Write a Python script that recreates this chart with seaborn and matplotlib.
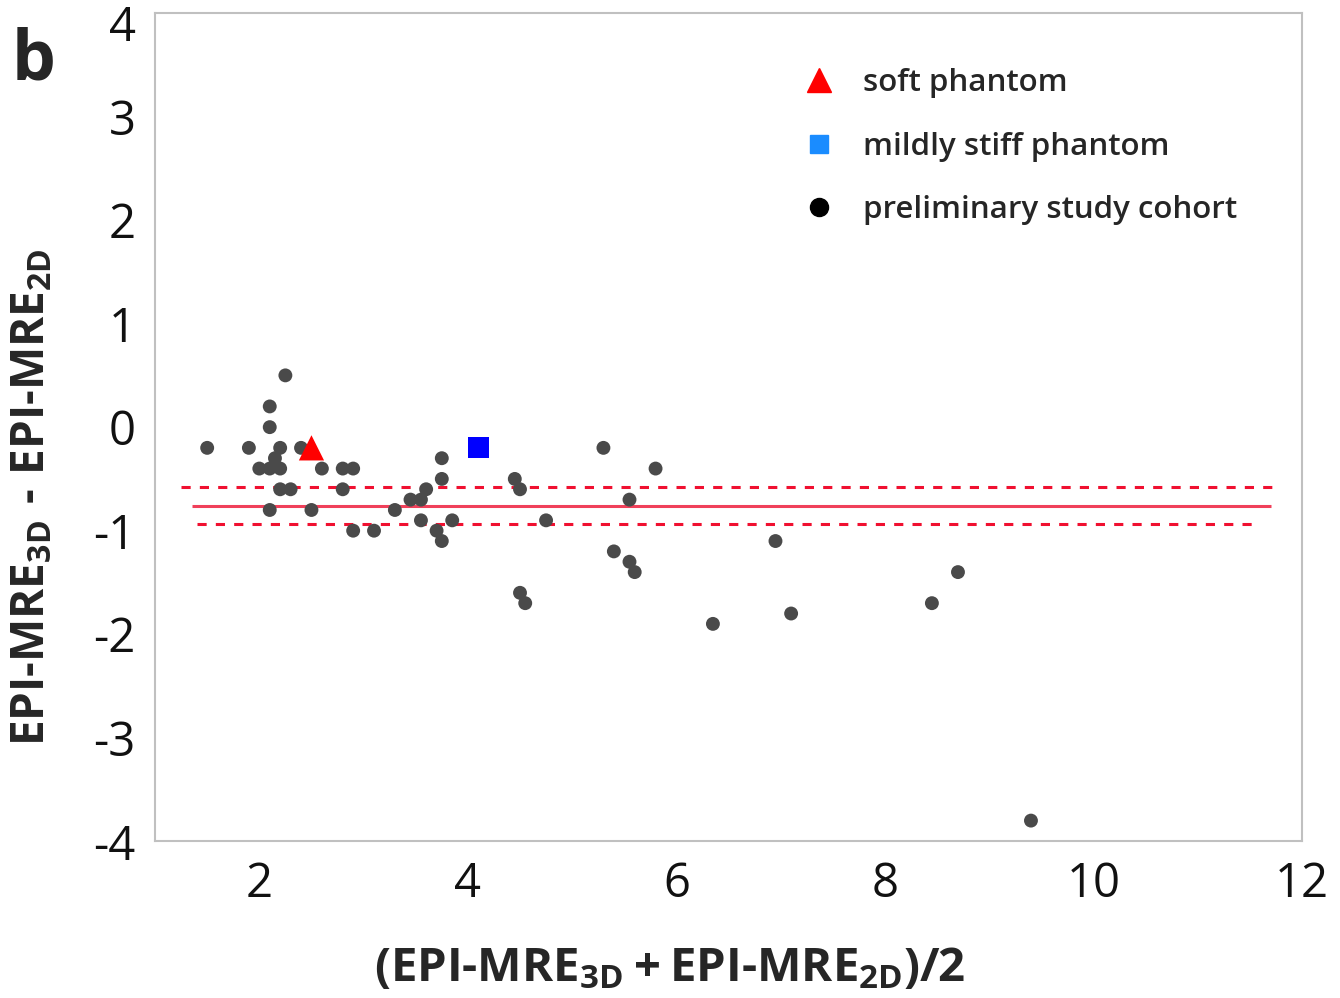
import numpy as np
import pandas as pd
import matplotlib
matplotlib.use("Agg")
import matplotlib.pyplot as plt
import matplotlib.transforms as mtransforms
import seaborn as sns
from matplotlib.lines import Line2D
from matplotlib.ticker import MultipleLocator

# Bland-Altman data
cohort_x = [1.5, 1.9, 2.0, 2.1, 2.1, 2.1, 2.1, 2.15, 2.2, 2.2, 2.2, 2.25, 2.3, 2.4,
            2.5, 2.6, 2.8, 2.8, 2.9, 2.9, 3.1, 3.3, 3.45, 3.55, 3.6, 3.55, 3.7, 3.75,
            3.75, 3.75, 3.85, 4.45, 4.5, 4.75, 4.5, 4.55, 5.3, 5.8, 5.55, 5.4, 5.55,
            5.6, 6.35, 6.95, 7.1, 8.45, 8.7, 9.4]
cohort_y = [-0.2, -0.2, -0.4, 0.2, 0.0, -0.4, -0.8, -0.3, -0.2, -0.4, -0.6, 0.5, -0.6, -0.2,
            -0.8, -0.4, -0.4, -0.6, -0.4, -1.0, -1.0, -0.8, -0.7, -0.7, -0.6, -0.9, -1.0, -1.1,
            -0.3, -0.5, -0.9, -0.5, -0.6, -0.9, -1.6, -1.7, -0.2, -0.4, -0.7, -1.2, -1.3,
            -1.4, -1.9, -1.1, -1.8, -1.7, -1.4, -3.8]
soft_x, soft_y = [2.5], [-0.2]
stiff_x, stiff_y = [4.1], [-0.2]
mean_diff = -0.76
upper_ci = -0.58
lower_ci = -0.94
y_ticks = [-4, -3, -2, -1, 0, 1, 2, 3, 4]

plt.rcParams['mathtext.fontset'] = 'custom'
plt.rcParams['mathtext.rm'] = 'Open Sans:bold'
plt.rcParams['mathtext.it'] = 'Open Sans:bold'
plt.rcParams['mathtext.bf'] = 'Open Sans:bold'

sns.set_style("white")
plt.rcParams['font.family'] = ['Open Sans', 'DejaVu Sans']

fig = plt.figure(figsize=(13.4, 9.98), dpi=100)
ax = fig.add_axes([0.1157, 0.157, 0.856, 0.83])

df = pd.DataFrame({"x": cohort_x, "y": cohort_y})
sns.scatterplot(data=df, x="x", y="y", color="#4a4a4a", s=100, edgecolor="none", ax=ax, zorder=3)
sns.scatterplot(x=soft_x, y=soft_y, marker="^", color="#ff0000", s=330, edgecolor="none", ax=ax, zorder=4)
sns.scatterplot(x=stiff_x, y=stiff_y, marker="s", color="#0000ff", s=230, edgecolor="none", ax=ax, zorder=4)

ax.hlines(mean_diff, 1.35, 11.7, color="#f0405a", lw=2.2, zorder=2)
ax.hlines(upper_ci, 1.25, 11.8, color="#f01030", lw=2.2, ls=(0, (3, 3)), zorder=2)
ax.hlines(lower_ci, 1.4, 11.6, color="#f01030", lw=2.2, ls=(0, (3, 3)), zorder=2)

ax.set_xlim(1, 12)
ax.set_ylim(-4, 4)
ax.xaxis.set_major_locator(MultipleLocator(2))
ax.xaxis.set_minor_locator(MultipleLocator(1))
ax.set_yticks(y_ticks)
ax.set_yticklabels([str(v) for v in y_ticks])
ax.tick_params(axis="both", which="major", direction="out", length=8, width=1.2,
               color="#b0b0b0", labelsize=34, labelcolor="#111111", pad=6)
ax.tick_params(axis="x", which="minor", direction="out", length=5, width=1.2, color="#b0b0b0")
ax.tick_params(axis="x", which="major", length=10, pad=4)
# top label sits a little lower so it is not cut off
top_lbl = ax.get_yticklabels()[-1]
top_lbl.set_transform(top_lbl.get_transform() +
                      mtransforms.ScaledTranslation(0, -10 / 100, fig.dpi_scale_trans))
for s in ax.spines.values():
    s.set_color("#c0c0c0")
    s.set_linewidth(1.5)

ax.set_xlabel(r"$(EPI\text{-}MRE_{3D}+EPI\text{-}MRE_{2D})/2$", fontsize=34)
ax.set_ylabel(r"$EPI\text{-}MRE_{3D}\ \text{-}\ EPI\text{-}MRE_{2D}$", fontsize=33)
ax.xaxis.set_label_coords(0.449, -0.125)
ax.yaxis.set_label_coords(-0.087, 0.415)

handles = [
    Line2D([], [], marker="^", color="#ff0000", ls="", ms=17),
    Line2D([], [], marker="s", color="#1a8cff", ls="", ms=13),
    Line2D([], [], marker="o", color="black", ls="", ms=13),
]
labels = ["soft phantom", "mildly stiff phantom", "preliminary study cohort"]
ax.legend(handles, labels, loc="upper left", bbox_to_anchor=(0.538, 0.967), frameon=False,
          prop={"size": 22.5, "weight": 600}, labelspacing=1.06, handletextpad=0.8,
          handlelength=1.2)

fig.text(0.009, 0.92, "b", fontsize=50, fontweight="bold", family="Open Sans", va="baseline")

fig.savefig("out.png", dpi=100)
